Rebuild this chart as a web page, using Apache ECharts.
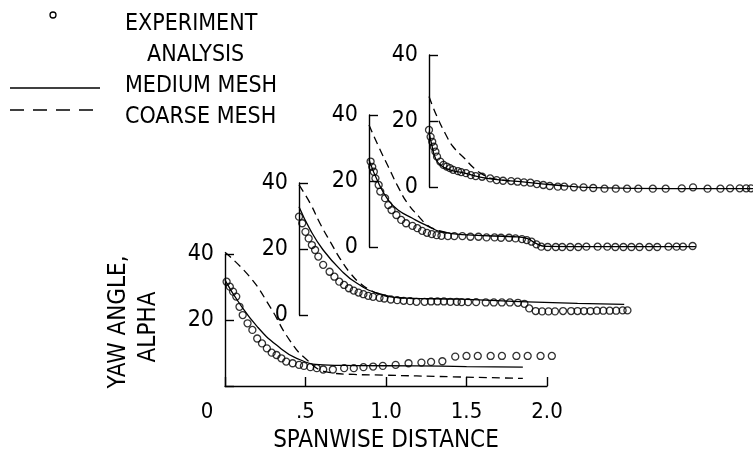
<!DOCTYPE html>
<html>
<head>
<meta charset="utf-8">
<script src="https://cdn.jsdelivr.net/npm/echarts@6/dist/echarts.min.js"></script>
<style>
  html, body { margin: 0; background: #fff; }
  #chart { width: 753px; height: 460px; }
</style>
</head>
<body>
<div id="chart"></div>
<script>
// spanwise station 1 (front, with the x axis)
const expP1 = [[0.01,31.6],[0.03,30.1],[0.05,28.6],[0.07,27.1],[0.09,24.0],[0.11,21.5],[0.14,19.0],[0.17,17.0],[0.20,14.4],[0.23,12.9],[0.26,11.4],[0.29,10.1],[0.32,9.4],[0.35,8.4],[0.38,7.4],[0.42,6.9],[0.46,6.4],[0.49,6.1],[0.53,5.7],[0.57,5.4],[0.61,5.0],[0.67,5.0],[0.74,5.4],[0.80,5.4],[0.86,5.7],[0.92,5.9],[0.98,6.1],[1.06,6.4],[1.14,6.9],[1.22,7.1],[1.28,7.3],[1.35,7.5],[1.43,8.9],[1.50,9.1],[1.57,9.1],[1.65,9.1],[1.72,9.1],[1.81,9.1],[1.88,9.1],[1.96,9.1],[2.03,9.1]];
const medP1 = [[0,32.1],[0.09,25],[0.2,18],[0.32,12.4],[0.445,8.4],[0.61,6.4],[0.8,6.2],[1.19,6.1],[1.5,5.9],[1.85,5.7]];
const coarseP1 = [[0,40.5],[0.155,33],[0.28,24],[0.40,14],[0.51,7.9],[0.63,4.3],[0.8,3.5],[0.98,3.3],[1.4,2.8],[1.85,2.3]];

// station 2
const expP2 = [[0.00,29.8],[0.02,27.8],[0.04,25.2],[0.06,23.2],[0.08,21.2],[0.10,19.7],[0.12,17.7],[0.15,15.2],[0.19,13.1],[0.22,11.6],[0.25,10.1],[0.28,9.1],[0.31,8.1],[0.34,7.4],[0.37,6.8],[0.40,6.3],[0.43,5.8],[0.46,5.5],[0.50,5.2],[0.53,5.0],[0.57,4.7],[0.61,4.5],[0.65,4.3],[0.69,4.2],[0.73,4.0],[0.78,4.0],[0.82,4.1],[0.86,4.1],[0.90,4.1],[0.94,4.0],[0.98,4.0],[1.01,3.9],[1.05,3.9],[1.10,3.9],[1.16,3.8],[1.21,3.8],[1.26,3.8],[1.31,3.8],[1.36,3.7],[1.40,3.4],[1.43,2.0],[1.47,1.2],[1.51,1.1],[1.55,1.1],[1.59,1.1],[1.64,1.2],[1.69,1.2],[1.73,1.2],[1.77,1.2],[1.81,1.2],[1.85,1.3],[1.89,1.3],[1.93,1.3],[1.97,1.3],[2.01,1.4],[2.04,1.4]];
const medP2 = [[0,32.8],[0.07,25.8],[0.15,19.7],[0.26,13.6],[0.36,9.6],[0.49,6.6],[0.67,5.1],[1.0,4.8],[1.42,4.0],[1.73,3.5],[2.02,3.2]];
const coarseP2 = [[0,39.4],[0.07,33.8],[0.13,27.8],[0.20,21.7],[0.26,16.7],[0.32,12.6],[0.38,9.6],[0.44,7.6],[0.51,6.1],[0.6,5.4],[0.7,5.0]];

// station 3
const expP3 = [[0.01,25.9],[0.02,24.3],[0.03,22.8],[0.04,20.8],[0.06,18.8],[0.07,16.8],[0.10,14.8],[0.12,12.7],[0.14,11.2],[0.17,9.7],[0.20,8.2],[0.23,7.2],[0.27,6.4],[0.30,5.7],[0.33,4.9],[0.36,4.3],[0.39,3.9],[0.42,3.6],[0.45,3.4],[0.49,3.3],[0.53,3.3],[0.58,3.3],[0.63,3.1],[0.68,3.1],[0.73,2.9],[0.78,2.9],[0.82,2.8],[0.87,2.8],[0.91,2.6],[0.95,2.4],[0.98,2.1],[1.01,1.6],[1.04,0.8],[1.07,0.1],[1.11,0],[1.16,0],[1.20,0],[1.25,0],[1.30,0],[1.35,0.1],[1.42,0.1],[1.48,0.1],[1.53,0],[1.58,0],[1.63,0],[1.68,0],[1.74,0],[1.79,0],[1.86,0.1],[1.91,0.1],[1.95,0.1],[2.01,0.3]];
const medP3 = [[0,26.4],[0.06,19.3],[0.12,14.2],[0.18,11.2],[0.27,8.7],[0.35,6.7],[0.45,4.6],[0.64,3.6],[0.9,3.1],[0.98,2.6],[1.04,1.0],[1.1,0.2],[1.4,0.1],[2.03,0.1]];
const coarseP3 = [[0,37],[0.06,30.4],[0.12,24.3],[0.18,18.3],[0.24,13.2],[0.31,9.2],[0.36,6.7],[0.41,5.4],[0.5,4.2]];

// station 4 (back)
const expP4 = [[0,17.3],[0.01,15.2],[0.02,13.7],[0.03,12.2],[0.04,10.7],[0.05,9.2],[0.07,7.7],[0.09,6.7],[0.11,6.2],[0.13,5.7],[0.15,5.2],[0.18,4.8],[0.20,4.5],[0.23,4.2],[0.26,3.6],[0.29,3.3],[0.33,3.1],[0.38,2.6],[0.42,2.1],[0.46,1.9],[0.51,1.8],[0.55,1.6],[0.59,1.4],[0.63,1.3],[0.67,0.9],[0.71,0.6],[0.75,0.3],[0.80,0.1],[0.84,0.1],[0.90,-0.1],[0.96,-0.1],[1.02,-0.3],[1.09,-0.5],[1.16,-0.5],[1.23,-0.5],[1.30,-0.5],[1.39,-0.5],[1.47,-0.5],[1.57,-0.4],[1.64,-0.1],[1.73,-0.5],[1.81,-0.5],[1.87,-0.4],[1.93,-0.4],[1.97,-0.4],[2.00,-0.4]];
const medP4 = [[0,16.8],[0.02,12.2],[0.04,8.7],[0.07,6.7],[0.13,5.2],[0.22,4.2],[0.36,2.6],[0.57,1.6],[0.78,0.6],[1.02,-0.2],[1.5,-0.5],[2.02,-0.5]];
const coarseP4 = [[0,27.4],[0.05,21.3],[0.10,16.3],[0.15,12.2],[0.22,8.7],[0.28,5.7],[0.34,3.6],[0.40,2.5],[0.5,1.9]];

const xTickLabels = ['0', '.5', '1.0', '1.5', '2.0'];
const yTicks = [0, 20, 40];

const FONT = "'DejaVu Sans Condensed', 'Liberation Sans Narrow', sans-serif";
const PX_PER_UNIT = 161;
const PANEL_H = 132;

// each panel is shifted up and right, like the original stacked drawing
const panels = [
  { left: 225, top: 254, xMax: 2.0, exp: expP1, med: medP1, coarse: coarseP1, front: true },
  { left: 299, top: 183, xMax: 2.05, exp: expP2, med: medP2, coarse: coarseP2 },
  { left: 369, top: 115, xMax: 2.05, exp: expP3, med: medP3, coarse: coarseP3 },
  { left: 429, top: 55, xMax: 2.02, exp: expP4, med: medP4, coarse: coarseP4 },
];

const chart = echarts.init(document.getElementById('chart'), null, { renderer: 'canvas' });

const grid = [], xAxis = [], yAxis = [], series = [];

panels.forEach((p, i) => {
  grid.push({
    left: p.left,
    top: p.top,
    width: p.xMax * PX_PER_UNIT,
    height: PANEL_H,
    outerBoundsMode: 'none',
    containLabel: false,
  });

  xAxis.push({
    gridIndex: i,
    type: 'value',
    min: 0,
    max: p.xMax,
    interval: 0.5,
    show: !!p.front,
    splitLine: { show: false },
    axisLine: { show: true, lineStyle: { color: '#000', width: 1.4 } },
    axisTick: { show: true, inside: true, length: 9, lineStyle: { color: '#000', width: 1.4 } },
    axisLabel: {
      margin: 15,
      color: '#000',
      fontFamily: FONT,
      fontSize: 22,
      formatter: v => {
        const s = xTickLabels[Math.round(v / 0.5)] || '';
        return v === 0 ? '{z|' + s + '}' : s;
      },
      rich: { z: { fontFamily: FONT, fontSize: 22, color: '#000', padding: [0, 36, 0, 0] } },
    },
    name: p.front ? 'SPANWISE DISTANCE' : '',
    nameLocation: 'middle',
    nameGap: 43,
    nameTextStyle: { color: '#000', fontFamily: FONT, fontSize: 24 },
  });

  yAxis.push({
    gridIndex: i,
    type: 'value',
    min: yTicks[0],
    max: yTicks[yTicks.length - 1],
    interval: 20,
    splitLine: { show: false },
    axisLine: { show: true, lineStyle: { color: '#000', width: 1.4 } },
    axisTick: { show: true, inside: true, length: 9, lineStyle: { color: '#000', width: 1.4 } },
    axisLabel: {
      margin: 11,
      color: '#000',
      fontFamily: FONT,
      fontSize: 23,
      formatter: v => (p.front && v === 0 ? '' : String(v)),
    },
  });

  series.push({
    name: 'MEDIUM MESH',
    type: 'line',
    xAxisIndex: i,
    yAxisIndex: i,
    data: p.med,
    symbol: 'none',
    smooth: 0.5,
    clip: false,
    lineStyle: { color: '#000', width: 1.3 },
  });
  series.push({
    name: 'COARSE MESH',
    type: 'line',
    xAxisIndex: i,
    yAxisIndex: i,
    data: p.coarse,
    symbol: 'none',
    smooth: 0.5,
    clip: false,
    lineStyle: { color: '#000', width: 1.3, type: [8, 5] },
  });
  series.push({
    name: 'EXPERIMENT',
    type: 'scatter',
    xAxisIndex: i,
    yAxisIndex: i,
    data: p.exp,
    symbol: 'circle',
    symbolSize: 7,
    clip: false,
    itemStyle: { color: 'rgba(255,255,255,0)', borderColor: '#000', borderWidth: 1.3 },
    z: 5,
  });
});

const txt = { fill: '#000', fontFamily: FONT, fontSize: 23 };

const option = {
  backgroundColor: '#fff',
  animation: false,
  grid, xAxis, yAxis, series,
  graphic: [
    // legend
    { type: 'circle', shape: { cx: 53, cy: 15, r: 3 }, style: { fill: '#fff', stroke: '#000', lineWidth: 1.3 } },
    { type: 'text', x: 125, y: 24, style: Object.assign({ text: 'EXPERIMENT', verticalAlign: 'middle' }, txt) },
    { type: 'text', x: 147, y: 55, style: Object.assign({ text: 'ANALYSIS', verticalAlign: 'middle' }, txt) },
    { type: 'line', shape: { x1: 10, y1: 88, x2: 100, y2: 88 }, style: { stroke: '#000', lineWidth: 1.3 } },
    { type: 'text', x: 125, y: 86, style: Object.assign({ text: 'MEDIUM MESH', verticalAlign: 'middle' }, txt) },
    { type: 'line', shape: { x1: 10, y1: 110, x2: 100, y2: 110 }, style: { stroke: '#000', lineWidth: 1.3, lineDash: [14, 9] } },
    { type: 'text', x: 125, y: 117, style: Object.assign({ text: 'COARSE MESH', verticalAlign: 'middle' }, txt) },
    // y axis title
    { type: 'text', x: 119, y: 322, rotation: Math.PI / 2, style: Object.assign({ text: 'YAW ANGLE,', align: 'center', verticalAlign: 'middle' }, txt, { fontSize: 24 }) },
    { type: 'text', x: 149, y: 327, rotation: Math.PI / 2, style: Object.assign({ text: 'ALPHA', align: 'center', verticalAlign: 'middle' }, txt, { fontSize: 24 }) },
  ],
};

chart.setOption(option);
</script>
</body>
</html>
